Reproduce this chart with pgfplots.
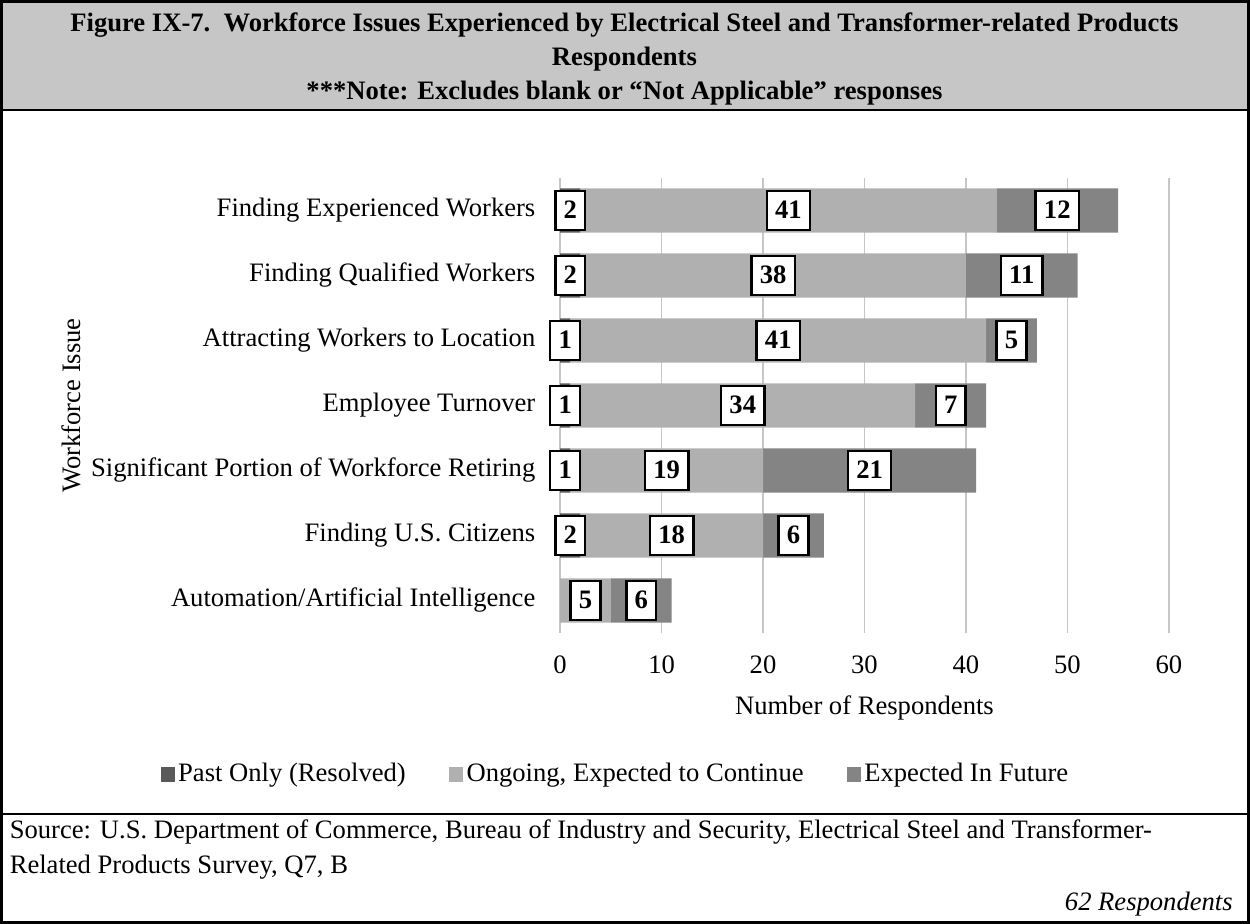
\documentclass[12pt,border=0pt]{standalone}
\usepackage{fontspec}
\setmainfont{Liberation Serif}
\usepackage{pgfplots}
\pgfplotsset{compat=1.18}
\definecolor{pastc}{HTML}{595959}
\definecolor{ongoc}{HTML}{B0B0B0}
\definecolor{futc}{HTML}{848484}
\definecolor{bandc}{HTML}{C6C6C6}

% white value box with a black rule, empty for zero
\newcommand\lbox[1]{{\setlength\fboxrule{1.1pt}\setlength\fboxsep{3.2pt}%
  \fcolorbox{black}{white}{\rule[-1.5pt]{0pt}{10pt}\bfseries #1}}}

\begin{document}
\begin{tikzpicture}
  % title band
  \fill[bandc] (0,0) rectangle (562.5pt,-49.05pt);
  \draw[line width=0.9pt] (0,-49.05pt) -- (562.5pt,-49.05pt);
  \node[align=center, font=\fontsize{12}{15.3}\selectfont\bfseries] at (281pt,-26pt)
    {Figure IX-7.\ \ Workforce Issues Experienced by Electrical Steel and Transformer-related Products\\
     Respondents\\
     ***Note: Excludes blank or “Not Applicable” responses};

  \begin{axis}[
    at={(252pt,-284.85pt)}, anchor=south west,
    scale only axis, width=274.5pt, height=205.2pt,
    xbar stacked, bar width=0.68,
    xmin=0, xmax=60, ymin=-0.5, ymax=6.5,
    xtick={0,10,...,60}, ytick={0,...,6},
    yticklabels={Automation/Artificial Intelligence, Finding U.S. Citizens,
      Significant Portion of Workforce Retiring, Employee Turnover,
      Attracting Workers to Location, Finding Qualified Workers,
      Finding Experienced Workers},
    axis line style={draw=none}, tick style={draw=none},
    xmajorgrids, grid style={gray!45, line width=0.6pt},
    /pgf/number format/assume math mode=true,
    xticklabel style={yshift=-6pt},
    yticklabel style={xshift=-7pt},
    xlabel={Number of Respondents},
    xlabel style={yshift=-2pt},
    clip=false, set layers, mark layer=axis foreground,
    point meta=rawx,
    visualization depends on={rawx \as \rawx},
    nodes near coords={\ifdim\rawx pt>0pt\lbox{\pgfmathprintnumber{\rawx}}\fi},
    nodes near coords align={center},
    every node near coord/.append style={anchor=center, inner sep=0pt},
    legend columns=3,
    legend style={at={(0.092,-0.311)}, anchor=center, draw=none, fill=none,
      /tikz/every even column/.append style={column sep=18pt},
      nodes={inner xsep=1.5pt}},
    legend image code/.code={\fill[#1] (0pt,-3.2pt) rectangle (6.4pt,3.2pt);},
  ]
    \addplot[fill=pastc, draw=none] coordinates
      {(0,0) (2,1) (1,2) (1,3) (1,4) (2,5) (2,6)};
    \addlegendentry{Past Only (Resolved)}
    \addplot[fill=ongoc, draw=none] coordinates
      {(5,0) (18,1) (19,2) (34,3) (41,4) (38,5) (41,6)};
    \addlegendentry{Ongoing, Expected to Continue}
    \addplot[fill=futc, draw=none] coordinates
      {(6,0) (6,1) (21,2) (7,3) (5,4) (11,5) (12,6)};
    \addlegendentry{Expected In Future}
  \end{axis}

  \node[rotate=90] at (31.5pt,-182.25pt) {Workforce Issue};

  % source box
  \draw[line width=0.9pt] (0,-366.3pt) -- (562.5pt,-366.3pt);
  \node[anchor=west, inner sep=0pt] at (3.6pt,-374.4pt)
    {Source: U.S. Department of Commerce, Bureau of Industry and Security, Electrical Steel and Transformer-};
  \node[anchor=west, inner sep=0pt] at (3.6pt,-390.6pt)
    {Related Products Survey, Q7, B};
  \node[anchor=east, inner sep=0pt, font=\itshape] at (555.5pt,-407.3pt) {62 Respondents};
  \draw[line width=1.2pt] (0,0) rectangle (562.5pt,-415.35pt);
\end{tikzpicture}
\end{document}
